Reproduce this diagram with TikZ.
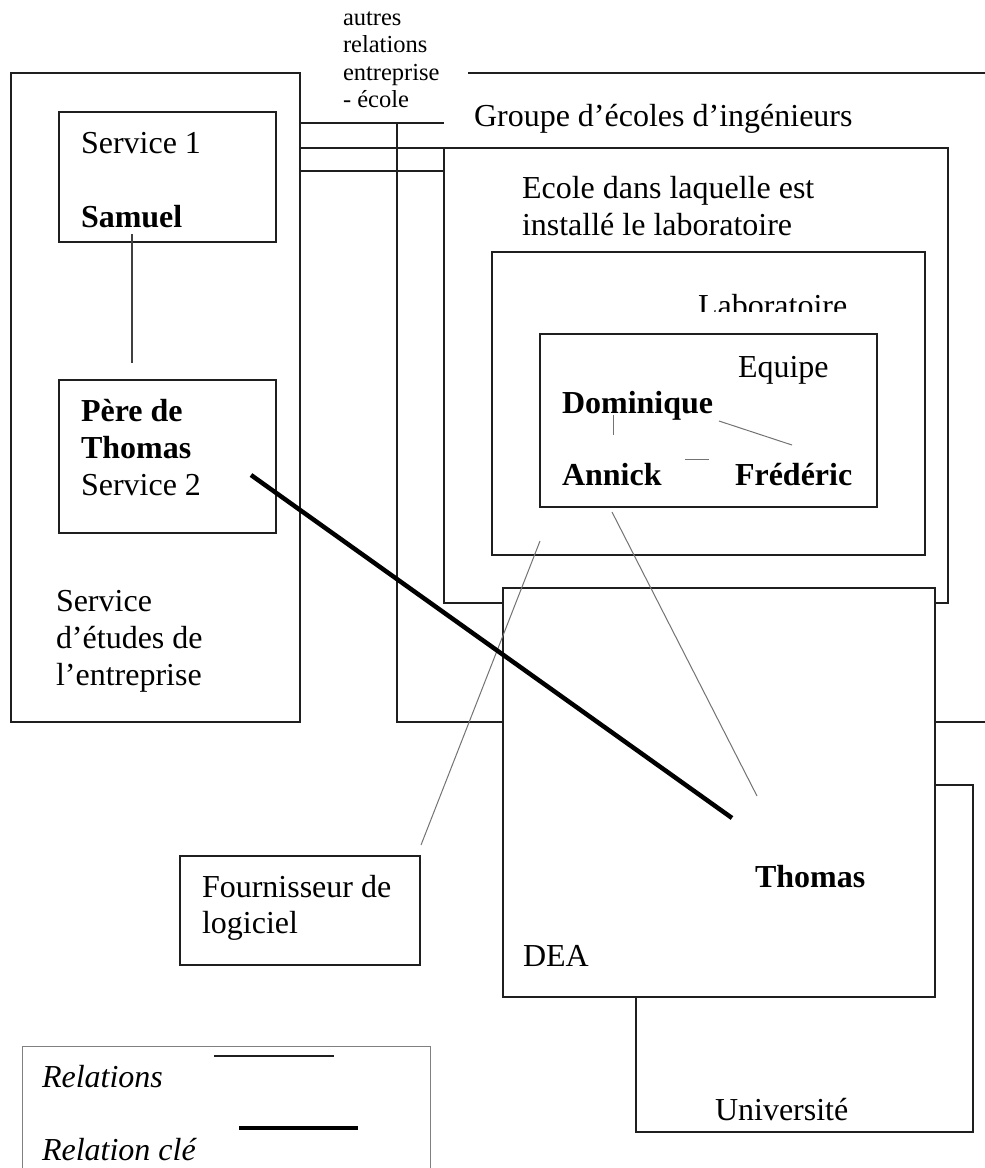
\documentclass[tikz,border=0pt]{standalone}
\usepackage{fontspec}
\setmainfont{Liberation Serif}
\begin{document}
\begin{tikzpicture}[x=1pt,y=-1pt,
  box/.style={draw=black!88,line width=2pt,inner sep=0pt,outer sep=0pt,anchor=north west},
  txt/.style={anchor=base west,inner sep=0pt,outer sep=0pt,font=\fontsize{32}{36}\selectfont},
  btxt/.style={txt,font=\fontsize{32}{36}\selectfont\bfseries},
  itxt/.style={txt,font=\fontsize{32}{36}\selectfont\itshape},
  small/.style={anchor=base west,inner sep=0pt,outer sep=0pt,font=\fontsize{24.5}{27}\selectfont},
  rel/.style={draw=black!88,line width=2pt},
  samline/.style={draw=black!75,line width=1.6pt},
  thinrel/.style={draw=black!55,line width=1pt},
  keyrel/.style={draw=black,line width=4.5pt}]
\useasboundingbox (0,0) rectangle (985,1168);

% Groupe d'ecoles (open outline)
\coordinate (gTL) at (468,73);
\coordinate (gTR) at (985,73);
\coordinate (gL) at (397,123);
\coordinate (gBL) at (397,722);
\coordinate (gBR) at (985,722);
\draw[rel] (gTL) -- (gTR);
\draw[rel] (gL) -- (gBL) -- (gBR);

% left organisation
\node[box,minimum width=289pt,minimum height=649pt] (sed) at (11,73) {};
\node[box,minimum width=217pt,minimum height=130pt] (s1) at (59,112) {};
\node[box,minimum width=217pt,minimum height=153pt] (pere) at (59,380) {};

% school, lab, team
\node[box,minimum width=504pt,minimum height=455pt,fill=white] (ecole) at (444,148) {};
\node[box,minimum width=433pt,minimum height=303pt] (lab) at (492,252) {};
\node[box,minimum width=337pt,minimum height=173pt] (equipe) at (540,334) {};

% university and DEA
\node[box,minimum width=337pt,minimum height=347pt] (univ) at (636,785) {};
\node[box,minimum width=432pt,minimum height=409pt,fill=white] (dea) at (503,588) {};

% supplier
\node[box,minimum width=240pt,minimum height=109pt] (four) at (180,856) {};

% legend
\coordinate (lgA) at (22,1168);
\coordinate (lgB) at (22,1046);
\coordinate (lgC) at (430,1046);
\coordinate (lgD) at (430,1168);
\draw[draw=black!50,line width=1pt] (lgA) -- (lgB) -- (lgC) -- (lgD);

% texts
\node[small] (t1) at (343,25) {autres};
\node[small] (t2) at (343,52.5) {relations};
\node[small] (t3) at (343,80) {entreprise};
\node[small] (t4) at (343,107.5) {- école};
\node[txt] (groupe) at (474,126) {Groupe d’écoles d’ingénieurs};
\node[txt] (serv1) at (81,153) {Service 1};
\node[btxt] (samuel) at (81,227) {Samuel};
\node[btxt] (pere1) at (81,421) {Père de};
\node[btxt] (pere2) at (81,458) {Thomas};
\node[txt] (serv2) at (81,495) {Service 2};
\node[txt] (sedA) at (56,611) {Service};
\node[txt] (sedB) at (56,648) {d’études de};
\node[txt] (sedC) at (56,685) {l’entreprise};
\node[txt] (ecA) at (522,198) {Ecole dans laquelle est};
\node[txt] (ecB) at (522,235) {installé le laboratoire};
\begin{scope}
  \clip (650,260) rectangle (910,311);
  \node[txt] (labt) at (698,316) {Laboratoire};
\end{scope}
\node[txt] (eqt) at (738,377) {Equipe};
\node[btxt] (dom) at (562,413) {Dominique};
\node[btxt] (ann) at (562,485) {Annick};
\node[btxt] (fred) at (735,485) {Frédéric};
\node[btxt] (thomas) at (755,887) {Thomas};
\node[txt] (deat) at (523,966) {DEA};
\node[txt] (univt) at (715,1120) {Université};
\node[txt] (fourA) at (202,897) {Fournisseur de};
\node[txt] (fourB) at (202,933) {logiciel};
\node[itxt] (lg1) at (42,1087) {Relations};
\node[itxt] (lg2) at (42,1160) {Relation clé};

% relation lines entreprise - ecole
\coordinate (r1a) at (300,123); \coordinate (r1b) at (444,123);
\coordinate (r2a) at (300,148); \coordinate (r2b) at (444,148);
\coordinate (r3a) at (300,171); \coordinate (r3b) at (444,171);
\draw[rel] (r1a) -- (r1b);
\draw[rel] (r2a) -- (r2b);
\draw[rel] (r3a) -- (r3b);

% Samuel - Pere de Thomas
\coordinate (samB) at (132,234);
\coordinate (pereT) at (132,363);
\draw[samline] (samB) -- (pereT);

% team relations
\coordinate (d1) at (613,415); \coordinate (a1) at (613,435);
\coordinate (d2) at (719,421); \coordinate (f2) at (792,445);
\coordinate (a3) at (685,459); \coordinate (f3) at (709,459);
\draw[thinrel] (d1) -- (a1);
\draw[thinrel] (d2) -- (f2);
\draw[thinrel] (a3) -- (f3);

% other relations
\coordinate (annB) at (612,512); \coordinate (thoT) at (757,796);
\draw[thinrel] (annB) -- (thoT);
\coordinate (labB) at (540,541); \coordinate (fourT) at (421,845);
\draw[thinrel] (labB) -- (fourT);

% key relation
\coordinate (kA) at (251,475); \coordinate (kB) at (732,818);
\draw[keyrel] (kA) -- (kB);

% legend lines
\coordinate (l1a) at (214,1056); \coordinate (l1b) at (334,1056);
\draw[rel] (l1a) -- (l1b);
\coordinate (l2a) at (239,1128); \coordinate (l2b) at (358,1128);
\draw[keyrel] (l2a) -- (l2b);
\end{tikzpicture}
\end{document}
